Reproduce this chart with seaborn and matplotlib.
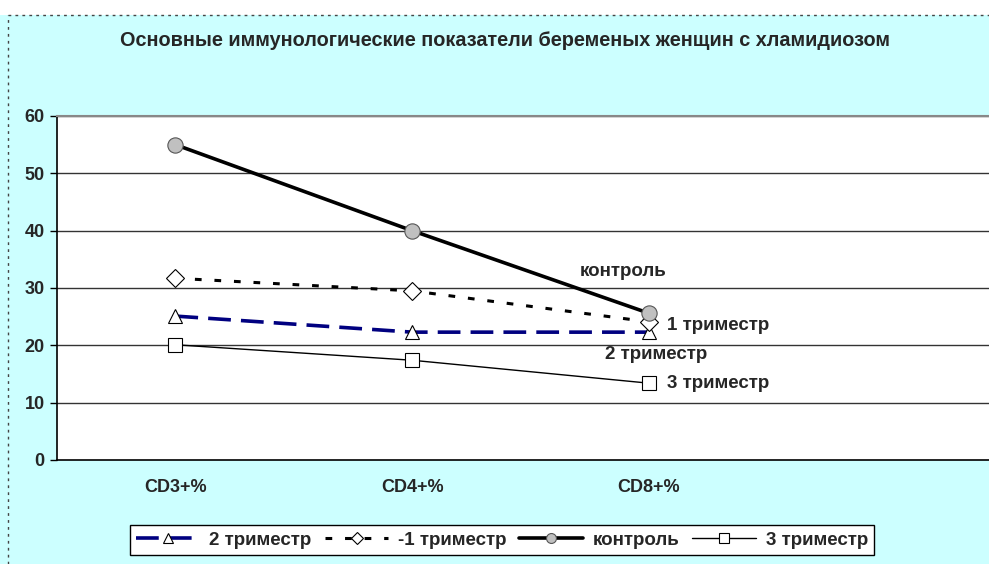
import matplotlib
matplotlib.use("Agg")
import matplotlib.pyplot as plt
import seaborn as sns
import pandas as pd
from matplotlib.lines import Line2D

categories = ["CD3+%", "CD4+%", "CD8+%"]
control = [55, 40, 25.6]
tri1 = [31.7, 29.5, 24.1]
tri2 = [25.1, 22.3, 22.3]
tri3 = [20.1, 17.4, 13.4]
series_names = ["2 триместр", "1 триместр", "контроль", "3 триместр"]
legend_labels = ["2 триместр", "-1 триместр", "контроль", "3 триместр"]
title = "Основные иммунологические показатели беременых женщин с хламидиозом"
yticks = [0, 10, 20, 30, 40, 50, 60]

sns.set_style("white")
plt.rcParams["font.family"] = ["Liberation Sans", "DejaVu Sans"]
plt.rcParams["font.weight"] = "bold"

W, H = 989, 564
fig = plt.figure(figsize=(W / 100, H / 100), dpi=100)
fig.patch.set_facecolor("#CCFFFF")

# white strip at top and dotted border
fig.patches.append(plt.Rectangle((0, 1 - 15 / H), 1, 15 / H, transform=fig.transFigure,
                                 facecolor="white", edgecolor="none", zorder=0))
fig.add_artist(Line2D([8 / W, 1], [1 - 15 / H, 1 - 15 / H], transform=fig.transFigure,
                      color="#444444", lw=1, ls=(0, (2, 3))))
fig.add_artist(Line2D([8 / W, 8 / W], [0, 1 - 15 / H], transform=fig.transFigure,
                      color="#444444", lw=1, ls=(0, (2, 3))))

ax = fig.add_axes([57 / W, (H - 460) / H, 947 / W, 344 / H])
ax.set_facecolor("white")

data = {"2 триместр": tri2, "1 триместр": tri1, "контроль": control, "3 триместр": tri3}
styles = {
    "2 триместр": dict(color="#000080", lw=2.6, dashes=(6.3, 2.8), marker="^", mfc="white",
                       mec="black", ms=10, mew=0.8),
    "1 триместр": dict(color="black", lw=2.2, dashes=(2.2, 4.2), marker="D", mfc="white",
                       mec="black", ms=9, mew=0.8),
    "контроль": dict(color="black", lw=2.6, dashes=(), marker="o", mfc="#C0C0C0",
                     mec="#555555", ms=11, mew=0.8),
    "3 триместр": dict(color="black", lw=1.0, dashes=(), marker="s", mfc="white",
                       mec="black", ms=10, mew=0.8),
}
for name in series_names:
    st = styles[name]
    df = pd.DataFrame({"cat": categories, "val": data[name]})
    sns.lineplot(data=df, x="cat", y="val", ax=ax, sort=False, color=st["color"],
                 lw=st["lw"], marker=st["marker"], markerfacecolor=st["mfc"],
                 markeredgecolor=st["mec"], markersize=st["ms"], markeredgewidth=st["mew"],
                 clip_on=False, zorder=3)
    line = ax.get_lines()[-1]
    if st["dashes"]:
        line.set_dashes(st["dashes"])

ax.set_xlim(-0.5, 3.5)
ax.set_ylim(0, 60)
ax.set_yticks(yticks)
ax.set_yticklabels([str(v) for v in yticks], fontsize=13, fontweight="bold")
ax.set_xticks([0, 1, 2])
ax.set_xticklabels(categories, fontsize=13, fontweight="bold")
ax.set_xticks([-0.5, 0.5, 1.5, 2.5, 3.5], minor=True)
ax.tick_params(axis="x", which="major", length=0, pad=14)
ax.tick_params(axis="x", which="minor", length=5, width=1, color="black", direction="out")
ax.tick_params(axis="y", length=5, width=1, color="black", direction="out", pad=4, left=True)
ax.set_xlabel("")
ax.set_ylabel("")
for v in yticks[1:]:
    ax.axhline(v, color="#333333", lw=1, zorder=1)
for s in ["left", "bottom"]:
    ax.spines[s].set_color("black")
    ax.spines[s].set_linewidth(1.2)
ax.spines["top"].set_color("#888888")
ax.spines["top"].set_linewidth(1.5)
ax.spines["right"].set_visible(False)

# inline labels at last points
offsets = {"контроль": (-26, 42, "center"), "1 триместр": (18, -4, "left"),
           "2 триместр": (7, -22, "center"), "3 триместр": (18, 0, "left")}
for name in series_names:
    dx, dy, ha = offsets[name]
    ax.annotate(name, xy=(2, data[name][2]), xytext=(dx, dy), textcoords="offset pixels",
                ha=ha, va="center", fontsize=13.5, fontweight="bold")

fig.text(505 / W, 1 - 40 / H, title, ha="center", va="center", fontsize=14.3, fontweight="bold")

handles = []
for name in series_names:
    st = styles[name]
    h = Line2D([], [], color=st["color"], lw=st["lw"], marker=st["marker"],
               markerfacecolor=st["mfc"], markeredgecolor=st["mec"],
               markersize=st["ms"] * 0.65, markeredgewidth=st["mew"])
    if st["dashes"]:
        h.set_dashes(st["dashes"])
    handles.append(h)
leg = fig.legend(handles, legend_labels, loc="center", bbox_to_anchor=(502 / W, 1 - 540 / H),
                 ncol=4, frameon=True, fancybox=False, handlelength=3.4,
                 columnspacing=0.7, handletextpad=0.5, borderpad=0.35,
                 prop={"weight": "bold", "size": 13.5})
leg.get_frame().set_edgecolor("black")
leg.get_frame().set_linewidth(1)
leg.get_frame().set_facecolor("white")
leg.get_frame().set_alpha(1)

fig.savefig("out.png", dpi=100, facecolor=fig.get_facecolor())
